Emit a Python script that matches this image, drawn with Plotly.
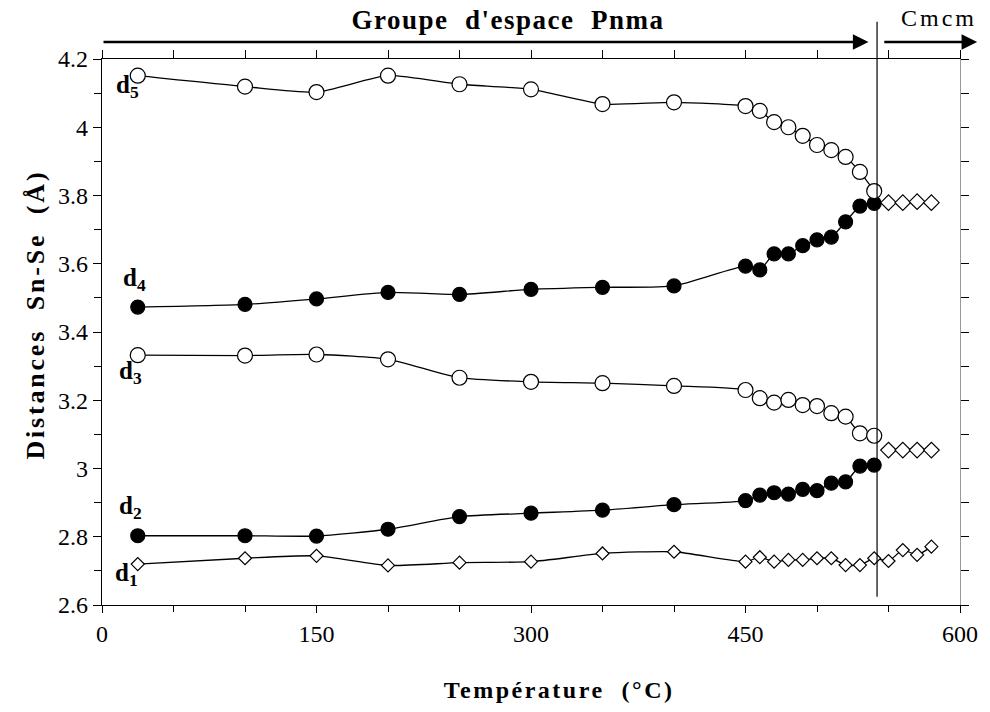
import plotly.graph_objects as go

# ---- data ----
T_pnma = [25, 100, 150, 200, 250, 300, 350, 400, 450, 460, 470, 480, 490, 500, 510, 520, 530, 540]
T_cmcm = [550, 560, 570, 580]

d1 = [2.720, 2.737, 2.744, 2.716, 2.724, 2.727, 2.751, 2.756, 2.727, 2.740, 2.727, 2.732, 2.732,
      2.737, 2.737, 2.717, 2.717, 2.737]
d1_cmcm = [2.729, 2.761, 2.747, 2.771]
d2 = [2.803, 2.803, 2.802, 2.822, 2.859, 2.869, 2.878, 2.894, 2.906, 2.922, 2.929, 2.925, 2.939,
      2.935, 2.957, 2.961, 3.007, 3.010]
d3 = [3.332, 3.331, 3.334, 3.320, 3.266, 3.254, 3.250, 3.242, 3.230, 3.206, 3.193, 3.201, 3.186,
      3.183, 3.162, 3.152, 3.103, 3.096]
d4 = [3.473, 3.481, 3.497, 3.516, 3.510, 3.525, 3.531, 3.535, 3.593, 3.582, 3.629, 3.629, 3.653,
      3.670, 3.678, 3.723, 3.769, 3.777]
d5 = [4.151, 4.119, 4.103, 4.151, 4.126, 4.111, 4.068, 4.073, 4.062, 4.048, 4.015, 4.000, 3.975,
      3.948, 3.933, 3.913, 3.869, 3.813]
cmcm_long = [3.779, 3.779, 3.782, 3.779]
cmcm_short = [3.054, 3.054, 3.054, 3.054]

y_ticks = [2.6, 2.8, 3.0, 3.2, 3.4, 3.6, 3.8, 4.0, 4.2]
y_ticktext = ["2.6", "2.8", "3", "3.2", "3.4", "3.6", "3.8", "4", "4.2"]
x_ticks = [0, 150, 300, 450, 600]
transition_T = 542

labels = [("d<sub>5</sub>", 18, 4.12), ("d<sub>4</sub>", 23, 3.555), ("d<sub>3</sub>", 20, 3.28),
          ("d<sub>2</sub>", 20, 2.885), ("d<sub>1</sub>", 17, 2.69)]

SERIF = "Liberation Serif, Times New Roman, serif"
LINE = dict(color="black", width=1.3, shape="spline", smoothing=0.6)

fig = go.Figure()

def add(x, y, symbol, size, fill="white"):
    fig.add_trace(go.Scatter(
        x=x, y=y, mode="lines+markers", line=LINE,
        marker=dict(symbol=symbol, size=size, color=fill,
                    line=dict(color="black", width=1.2)),
        showlegend=False, hoverinfo="skip"))

add(T_pnma + T_cmcm, d1 + d1_cmcm, "diamond", 10)
add(T_pnma, d2, "circle", 14, "black")
add(T_pnma, d3, "circle", 15)
add(T_pnma, d4, "circle", 14, "black")
add(T_pnma, d5, "circle", 15)
add(T_cmcm, cmcm_long, "diamond", 12)
add(T_cmcm, cmcm_short, "diamond", 12)

# invisible trace for the secondary (top/right) frame axes
fig.add_trace(go.Scatter(x=[0], y=[2.6], xaxis="x2", yaxis="y2", mode="markers",
                         marker=dict(opacity=0), showlegend=False, hoverinfo="skip"))

tickfont = dict(family=SERIF, size=24, color="black")
fig.update_layout(
    width=990, height=712,
    margin=dict(l=102, r=28, t=59, b=107),
    paper_bgcolor="white", plot_bgcolor="white",
    xaxis=dict(range=[0, 600], tickvals=x_ticks, ticks="outside", ticklen=7, tickwidth=1,
               tickcolor="black", showline=True, linecolor="black", linewidth=1.2,
               showgrid=False, zeroline=False, tickfont=tickfont,
               minor=dict(ticks="outside", dtick=50, tick0=0, ticklen=6, tickcolor="black", showgrid=False)),
    yaxis=dict(range=[2.6, 4.2], tickvals=y_ticks, ticktext=y_ticktext, ticks="outside",
               ticklen=8, tickwidth=1, tickcolor="black", showline=True, linecolor="black",
               linewidth=1.2, showgrid=False, zeroline=False, tickfont=tickfont,
               minor=dict(ticks="outside", dtick=0.1, tick0=2.6, ticklen=7, tickcolor="black", showgrid=False)),
    xaxis2=dict(overlaying="x", side="top", range=[0, 600], dtick=50, tick0=0, ticks="outside",
                ticklen=8, tickcolor="black", showline=True, linecolor="black", linewidth=1.2,
                showticklabels=False, showgrid=False, zeroline=False),
    yaxis2=dict(overlaying="y", side="right", range=[2.6, 4.2], dtick=0.1, tick0=2.6,
                ticks="outside", ticklen=8, tickcolor="black", showline=True,
                linecolor="#999999", linewidth=1, showticklabels=False, showgrid=False,
                zeroline=False),
)

# vertical phase-transition line
fig.add_shape(type="line", xref="x", yref="paper", x0=transition_T, x1=transition_T,
              y0=0.015, y1=1.068, line=dict(color="black", width=1.2))

# arrows
fig.add_annotation(xref="x", yref="paper", x=536, y=1.031, axref="x", ayref="pixel",
                   ax=0, ay=0, showarrow=True, arrowhead=2, arrowsize=1.3, arrowwidth=2.4,
                   arrowcolor="black", text="")
fig.add_annotation(xref="x", yref="paper", x=612, y=1.031, axref="x", ayref="pixel",
                   ax=546, ay=0, showarrow=True, arrowhead=2, arrowsize=1.3, arrowwidth=2.4,
                   arrowcolor="black", text="")

fig.add_annotation(xref="paper", yref="paper", x=0.474, y=1.071, xanchor="center", yanchor="middle",
                   text="<b>Groupe  d'espace  Pnma</b>", showarrow=False,
                   font=dict(family=SERIF, size=27, color="black"))
fig.add_annotation(xref="paper", yref="paper", x=0.975, y=1.075, xanchor="center", yanchor="middle",
                   text="Cmcm", showarrow=False,
                   font=dict(family=SERIF, size=24, color="black"))

# axis titles
fig.add_annotation(xref="paper", yref="paper", x=0.533, y=-0.156, xanchor="center", yanchor="middle",
                   text="<b>Température  (°C)</b>", showarrow=False,
                   font=dict(family=SERIF, size=24, color="black"))
fig.add_annotation(xref="paper", yref="paper", x=-0.078, y=0.531, xanchor="center", yanchor="middle",
                   text="<b>Distances  Sn-Se  (Å)</b>", textangle=-90, showarrow=False,
                   font=dict(family=SERIF, size=26, color="black"))

for txt, lx, ly in labels:
    fig.add_annotation(xref="x", yref="y", x=lx, y=ly, text="<b>" + txt + "</b>",
                       showarrow=False, xanchor="center", yanchor="middle",
                       font=dict(family=SERIF, size=25, color="black"))

post_js = """
document.body.style.margin = '0';
var gd = document.getElementById('{plot_id}');
function spacing() {
  gd.querySelectorAll('.annotation-text').forEach(function (t) {
    var s = t.textContent;
    if (s.indexOf('Groupe') >= 0) { t.style.letterSpacing = '1.5px'; }
    else if (s.indexOf('Cmcm') >= 0) { t.style.letterSpacing = '3px'; }
    else if (s.indexOf('Temp') >= 0) { t.style.letterSpacing = '2.5px'; }
    else if (s.indexOf('Distances') >= 0) { t.style.letterSpacing = '2.8px'; }
  });
}
spacing();
gd.on('plotly_afterplot', spacing);
"""

fig.write_html("out.html", post_script=post_js, config={"displayModeBar": False})
